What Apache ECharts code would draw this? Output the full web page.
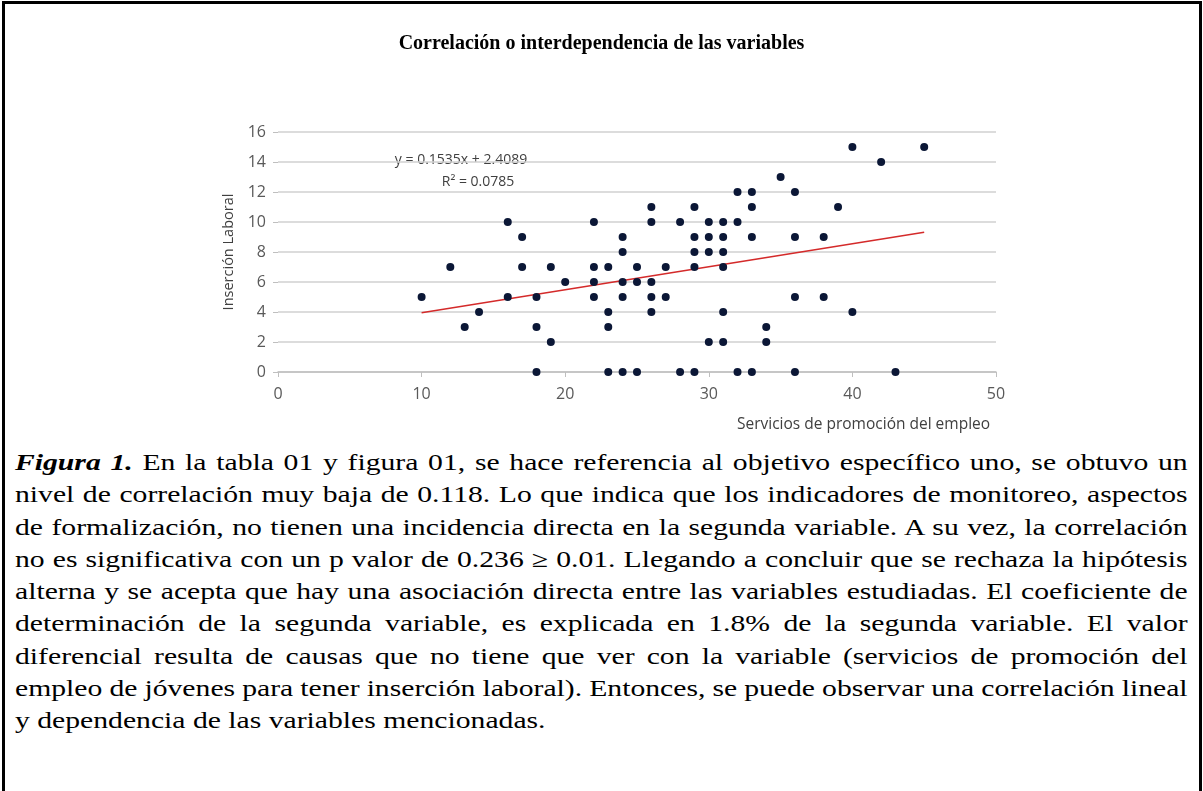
<!DOCTYPE html>
<html>
<head>
<meta charset="utf-8">
<script src="https://cdn.jsdelivr.net/npm/echarts@6/dist/echarts.min.js"></script>
<style>
  html, body { margin: 0; padding: 0; background: #fff; overflow: hidden; }
  #frame { position: absolute; left: 2px; top: 1px; width: 1194px; height: 900px; border: 3px solid #000; }
  #chart { position: absolute; left: 0; top: 0; width: 1203px; height: 440px; }
  #caption { position: absolute; left: 15px; top: 447px; width: 909px; transform: scaleX(1.29); transform-origin: 0 0;
    font-family: "Liberation Serif", "Times New Roman", serif; font-size: 23px; color: #000; }
  #caption div { height: 32.3px; line-height: 32.3px; white-space: nowrap; text-align: justify; text-align-last: justify; word-spacing: -2px; }
  #caption div.last { text-align-last: left; word-spacing: 0; }
</style>
</head>
<body>
<div id="frame"></div>
<div id="chart"></div>
<div id="caption">
  <div><b><i>Figura 1.</i></b> En la tabla 01 y figura 01, se hace referencia al objetivo específico uno, se obtuvo un</div>
  <div>nivel de correlación muy baja de 0.118. Lo que indica que los indicadores de monitoreo, aspectos</div>
  <div>de formalización, no tienen una incidencia directa en la segunda variable. A su vez, la correlación</div>
  <div>no es significativa con un p valor de 0.236 ≥ 0.01. Llegando a concluir que se rechaza la hipótesis</div>
  <div>alterna y se acepta que hay una asociación directa entre las variables estudiadas. El coeficiente de</div>
  <div>determinación de la segunda variable, es explicada en 1.8% de la segunda variable. El valor</div>
  <div>diferencial resulta de causas que no tiene que ver con la variable (servicios de promoción del</div>
  <div>empleo de jóvenes para tener inserción laboral). Entonces, se puede observar una correlación lineal</div>
  <div class="last">y dependencia de las variables mencionadas.</div>
</div>
<script>
// Servicios de promoción del empleo (x) / Inserción Laboral (y)
var xValues = [10, 12, 13, 14, 16, 16, 17, 17, 18, 18, 18, 19, 19, 20,
  22, 22, 22, 22, 23, 23, 23, 23, 24, 24, 24, 24, 24, 25, 25, 25,
  26, 26, 26, 26, 26, 27, 27, 28, 28, 29, 29, 29, 29, 29,
  30, 30, 30, 30, 31, 31, 31, 31, 31, 31, 32, 32, 32, 33, 33, 33, 33,
  34, 34, 35, 36, 36, 36, 36, 38, 38, 39, 40, 40, 42, 43, 45];
var yValues = [5, 7, 3, 4, 10, 5, 9, 7, 5, 3, 0, 7, 2, 6,
  10, 7, 6, 5, 7, 4, 3, 0, 9, 8, 6, 5, 0, 7, 6, 0,
  11, 10, 6, 5, 4, 7, 5, 10, 0, 11, 9, 8, 7, 0,
  10, 9, 8, 2, 10, 9, 8, 7, 4, 2, 12, 10, 0, 12, 11, 9, 0,
  3, 2, 13, 12, 9, 5, 0, 9, 5, 11, 15, 4, 14, 0, 15];

// linea de tendencia
var trendSlope = 0.1535;
var trendIntercept = 2.4089;
var trendRange = [10, 45];
var equationText = 'y = 0.1535x + 2.4089';
var r2Text = 'R² = 0.0785';

var xTicks = [0, 50, 10];
var yTicks = [0, 16, 2];

var points = [];
for (var i = 0; i < xValues.length; i++) {
  points.push([xValues[i], yValues[i]]);
}
var trend = [];
for (var j = 0; j < trendRange.length; j++) {
  trend.push([trendRange[j], trendSlope * trendRange[j] + trendIntercept]);
}

var axisFont = '"Open Sans", "Liberation Sans", sans-serif';

var myChart = echarts.init(document.getElementById('chart'));
var option = {
  animation: false,
  title: {
    text: 'Correlación o interdependencia de las variables',
    left: 'center',
    top: 29,
    textStyle: { fontFamily: '"Liberation Serif", "Times New Roman", serif', fontWeight: 'bold', fontSize: 20, color: '#000' }
  },
  grid: { left: 278, right: 207, top: 132, bottom: 68 },
  xAxis: {
    type: 'value',
    min: xTicks[0], max: xTicks[1], interval: xTicks[2],
    splitLine: { show: false },
    axisLine: { show: true, lineStyle: { color: '#bfbfbf', width: 1.5 } },
    axisTick: { show: true, length: 5, lineStyle: { color: '#bfbfbf' } },
    axisLabel: { margin: 14, fontFamily: axisFont, fontSize: 16, color: '#595959' }
  },
  yAxis: {
    type: 'value',
    min: yTicks[0], max: yTicks[1], interval: yTicks[2],
    name: 'Inserción Laboral',
    nameLocation: 'middle',
    nameGap: 42,
    nameTextStyle: { fontFamily: axisFont, fontSize: 14.5, color: '#404040' },
    splitLine: { show: true, lineStyle: { color: '#d0d0d0', width: 1.5 } },
    axisLine: { show: false },
    axisTick: { show: true, length: 5, lineStyle: { color: '#bfbfbf' } },
    axisLabel: { margin: 12, fontFamily: axisFont, fontSize: 16, color: '#595959' }
  },
  graphic: [
    {
      type: 'text', left: 737, top: 417,
      style: { text: 'Servicios de promoción del empleo', font: '15.5px ' + axisFont, fill: '#404040' }
    },
    {
      type: 'text', x: 461, y: 160,
      style: { text: equationText, font: '14px ' + axisFont, fill: '#404040', align: 'center', verticalAlign: 'middle' }
    },
    {
      type: 'text', x: 478, y: 182,
      style: { text: r2Text, font: '14px ' + axisFont, fill: '#404040', align: 'center', verticalAlign: 'middle' }
    }
  ],
  series: [
    {
      type: 'scatter',
      data: points,
      symbolSize: 8,
      itemStyle: { color: '#0b1736', opacity: 1 },
      z: 3
    },
    {
      type: 'line',
      data: trend,
      symbol: 'none',
      lineStyle: { color: '#d42a2a', width: 1.5 },
      z: 2
    }
  ]
};
myChart.setOption(option);
</script>
</body>
</html>
